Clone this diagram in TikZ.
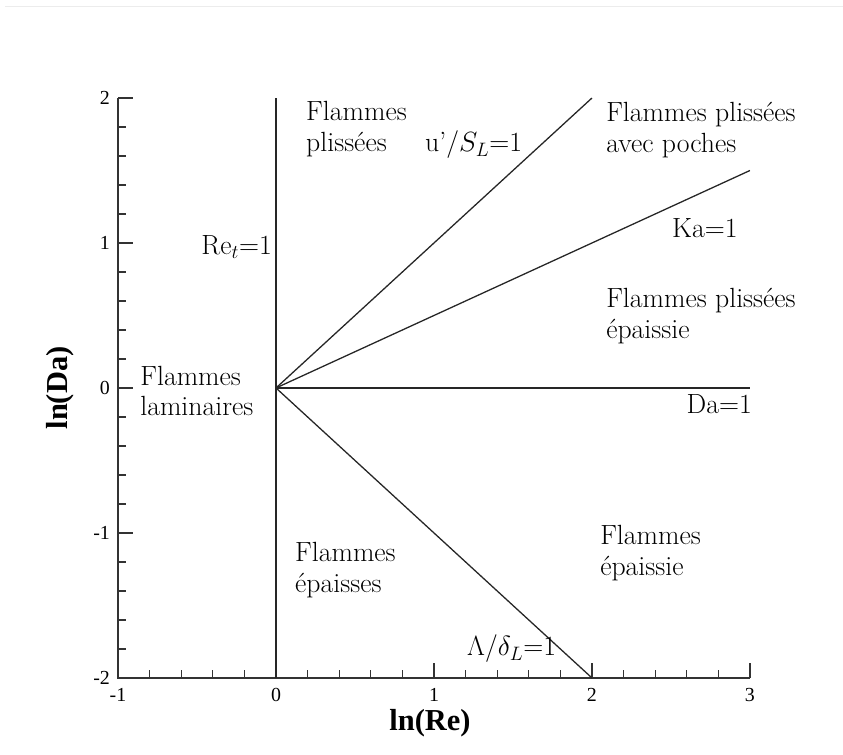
\documentclass[tikz,border=0pt]{standalone}
\usepackage{fix-cm}
\usepackage{fontspec}
\newfontfamily\tmsfont{Liberation Serif}
\usepackage{tikz}
\usetikzlibrary{positioning}

\begin{document}
\begin{tikzpicture}[
  x=4.74cm, y=4.35cm,
  font=\fontsize{23.7}{26}\selectfont,
  regime/.style={align=left, anchor=west, inner sep=0pt},
  crit/.style={inner sep=0pt},
  boundary/.style={line width=1.1pt, black!85},
  axisline/.style={line width=1.5pt, black!80},
  tick/.style={line width=1.1pt, black!80},
  ticklab/.style={font=\tmsfont\fontsize{17}{20}\selectfont, inner sep=0pt},
  axlab/.style={font=\tmsfont\bfseries\fontsize{26}{30}\selectfont, inner sep=0pt}
]
\useasboundingbox (-1.747,-2.531) rectangle (3.589,2.676);

%% faint rule at the top of the screenshot
\draw[gray!15, line width=0.8pt] (-1.715,2.628) -- (3.589,2.628);

%% Axes
\coordinate (ll) at (-1,-2);
\coordinate (tl) at (-1, 2);
\coordinate (br) at ( 3,-2);
\draw[axisline] (tl) -- (ll) -- (br);

%% Ticks
\foreach \y in {-2,-1,...,2}
  \draw[tick] (-1,\y) -- ++(0.45cm,0);
\foreach \y in {-1.8,-1.6,...,1.9}
  \draw[tick] (-1,\y) -- ++(0.25cm,0);
\foreach \x in {-1,0,...,3}
  \draw[tick] (\x,-2) -- ++(0,0.45cm);
\foreach \x in {-0.8,-0.6,...,2.9}
  \draw[tick] (\x,-2) -- ++(0,0.25cm);

%% Tick labels
\foreach \y in {-2,-1,0,1,2}
  \node[ticklab, anchor=east] at (-1.05,\y) {\y};
\foreach \x in {-1,0,1,2,3}
  \node[ticklab, anchor=north] at (\x,-2.07) {\x};

%% Axis titles
\node[axlab] (xlab) at (0.975,-2.31) {ln(Re)};
\node[axlab, rotate=90] (ylab) at (-1.367,0) {ln(Da)};

%% Regime boundaries
\coordinate (O)   at (0,0);
\coordinate (Rtop) at (0,2);
\coordinate (Rbot) at (0,-2);
\coordinate (Uend) at (2,2);
\coordinate (Kend) at (3,1.5);
\coordinate (Dend) at (3,0);
\coordinate (Lend) at (2,-2);
\draw[boundary] (Rbot) -- (Rtop);
\draw[boundary] (O) -- (Uend);
\draw[boundary] (O) -- (Kend);
\draw[boundary] (O) -- (Dend);
\draw[boundary] (O) -- (Lend);

%% Criteria labels
\node[crit, anchor=west] (usl)  at (0.943,1.676) {u'$/S_L$=1};
\node[crit, anchor=east] (ret)  at (-0.025,0.97) {Re$_t$=1};
\node[crit, anchor=west] (ka)   at (2.506,1.103) {Ka=1};
\node[crit, anchor=east] (da)   at (3.013,-0.11) {Da=1};
\node[crit, anchor=west] (lam)  at (1.209,-1.80) {$\Lambda/\delta_L$=1};

%% Regimes
\node[regime] (plis)    at (0.19,1.786)   {Flammes\\plissées};
\node[regime] (poches)  at (2.089,1.779)  {Flammes plissées\\avec poches};
\node[regime] (plisep)  at (2.089,0.497)  {Flammes plissées\\épaissie};
\node[regime] (lamin)   at (-0.86,-0.02)  {Flammes\\laminaires};
\node[regime] (epaisses)at (0.12,-1.255)  {Flammes\\épaisses};
\node[regime] (epaissie)at (2.051,-1.138) {Flammes\\épaissie};

\end{tikzpicture}
\end{document}
